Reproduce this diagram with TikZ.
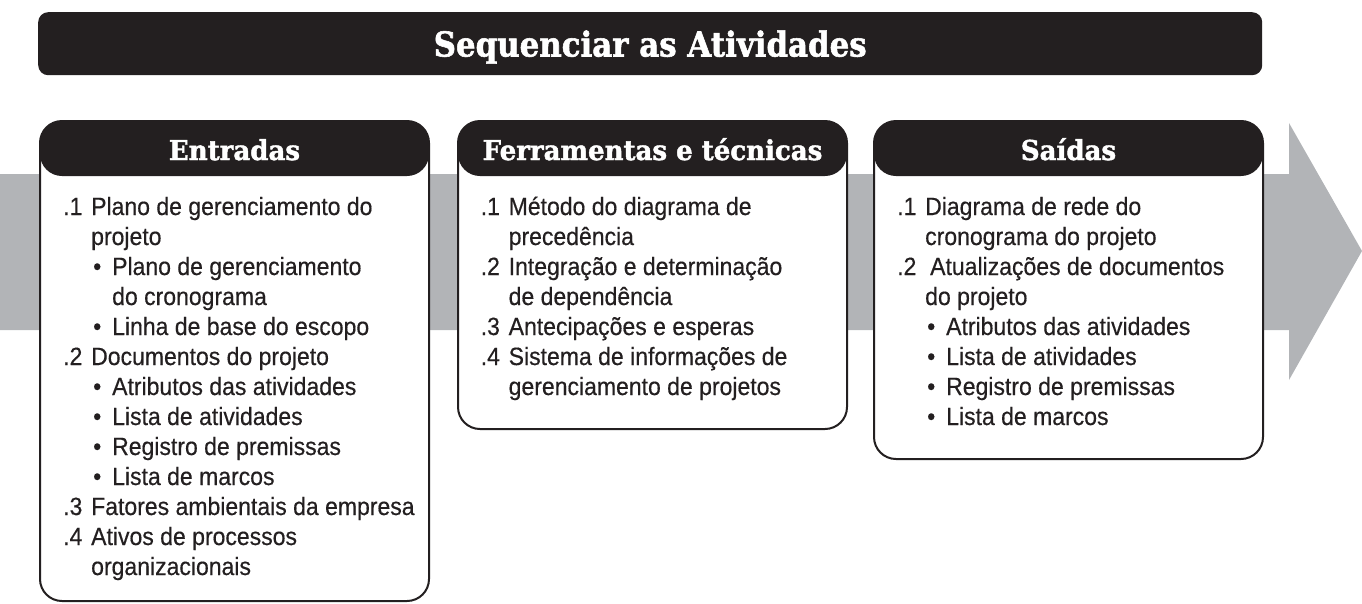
\documentclass[tikz,border=0pt]{standalone}
\usepackage{fontspec}
\setmainfont{Liberation Sans}
\newfontfamily\fontcorpo[FakeStretch=0.92, FakeBold=0.4]{Liberation Sans}
\newfontfamily\fonttitulo[FakeStretch=0.9, FakeBold=1.6]{DejaVu Serif Bold}
\newfontfamily\fontcab[FakeStretch=0.95, FakeBold=1.6]{DejaVu Serif Bold}
\definecolor{escuro}{HTML}{231F20}
\definecolor{cinza}{HTML}{B2B4B7}
% linhas das listas
\newcommand{\nitem}[1]{\makebox[28pt][l]{#1}}
\newcommand{\ncont}{\hspace*{28pt}}
\newcommand{\bitem}{\hspace*{30pt}\makebox[19pt][l]{\textbullet}}
\newcommand{\bcont}{\hspace*{49pt}}
\begin{document}
\begin{tikzpicture}[x=1pt, y=-1pt,
    caixa/.style={draw=escuro, line width=2pt, fill=white, rounded corners=22pt,
        anchor=north west, minimum width=389pt, inner sep=0pt,
        path picture={\fill[escuro] (path picture bounding box.north west)
            rectangle ([yshift=-55pt]path picture bounding box.north east);}},
    cabecalho/.style={anchor=base, text=white, inner sep=0pt, font=\fontcab\fontsize{27.4}{30}\selectfont},
    lista/.style={anchor=base west, inner sep=0pt, text=escuro, font=\fontcorpo\fontsize{25}{30}\selectfont}]
    \useasboundingbox (0,0) rectangle (1362,603);
    %Pfeil im Hintergrund
    \fill[cinza] (0,174) -- (1289,174) -- (1289,123) -- (1362,251) -- (1289,380) -- (1289,330) -- (0,330) -- cycle;
    %Titel
    \node[fill=escuro, rounded corners=10pt, anchor=north west, minimum width=1224pt, minimum height=63pt, inner sep=0pt] (barra) at (38,12) {};
    \node[anchor=base, text=white, inner sep=0pt, font=\fonttitulo\fontsize{34.3}{36}\selectfont] (titulo) at ([yshift=-44.5pt]barra.north) {Sequenciar as Atividades};
    %Kaesten
    \node[caixa, minimum height=480pt] (entradas) at (39,120) {};
    \node[caixa, minimum height=308pt] (ferramentas) at (457,120) {};
    \node[caixa, minimum height=338pt] (saidas) at (873,120) {};
    \foreach \c/\t in {entradas/Entradas, ferramentas/Ferramentas e técnicas, saidas/Saídas} {
        \node[cabecalho] (cab-\c) at ([yshift=-40pt]\c.north) {\t};
    }%Ueberschriften
    %Listen
    \node[lista] (lista-entradas) at ([xshift=24pt, yshift=-95pt]entradas.north west) {\begin{minipage}[t]{360pt}
        \nitem{.1}Plano de gerenciamento do\\
        \ncont projeto\\
        \bitem Plano de gerenciamento\\
        \bcont do cronograma\\
        \bitem Linha de base do escopo\\
        \nitem{.2}Documentos do projeto\\
        \bitem Atributos das atividades\\
        \bitem Lista de atividades\\
        \bitem Registro de premissas\\
        \bitem Lista de marcos\\
        \nitem{.3}Fatores ambientais da empresa\\
        \nitem{.4}Ativos de processos\\
        \ncont organizacionais
    \end{minipage}};
    \node[lista] (lista-ferramentas) at ([xshift=23.5pt, yshift=-95pt]ferramentas.north west) {\begin{minipage}[t]{360pt}
        \nitem{.1}Método do diagrama de\\
        \ncont precedência\\
        \nitem{.2}Integração e determinação\\
        \ncont de dependência\\
        \nitem{.3}Antecipações e esperas\\
        \nitem{.4}Sistema de informações de\\
        \ncont gerenciamento de projetos
    \end{minipage}};
    \node[lista] (lista-saidas) at ([xshift=24pt, yshift=-95pt]saidas.north west) {\begin{minipage}[t]{360pt}
        \nitem{.1}Diagrama de rede do\\
        \ncont cronograma do projeto\\
        \nitem{.2}\hspace{5pt}Atualizações de documentos\\
        \ncont do projeto\\
        \bitem Atributos das atividades\\
        \bitem Lista de atividades\\
        \bitem Registro de premissas\\
        \bitem Lista de marcos
    \end{minipage}};
\end{tikzpicture}
\end{document}
